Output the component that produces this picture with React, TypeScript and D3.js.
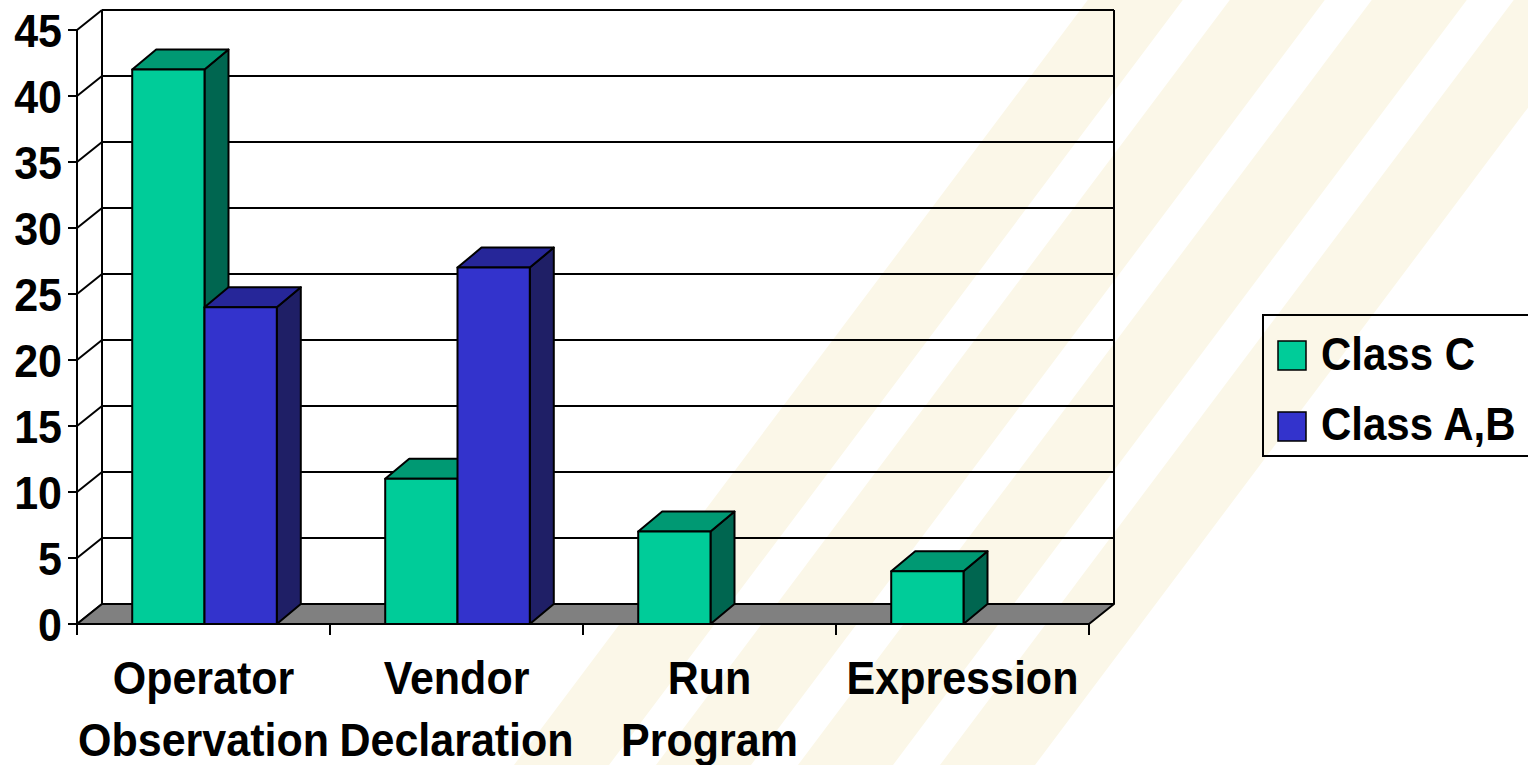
import React from "react";
import * as d3 from "d3";

// ---- data ----
const categories = ["Operator Observation", "Vendor Declaration", "Run Program", "Expression"];
const categoryLines = [["Operator", "Observation"], ["Vendor", "Declaration"], ["Run", "Program"], ["Expression"]];
const seriesNames = ["Class C", "Class A,B"];
const classC = [42, 11, 7, 4];
const classAB = [24, 27, 0, 0];
const yTicks = [0, 5, 10, 15, 20, 25, 30, 35, 40, 45];

// ---- styles ----
const W = 1528;
const H = 765;
const FONT = "'Liberation Sans', Arial, sans-serif";
const seriesColors = [
  { front: "#00CC99", top: "#009973", side: "#006650" },
  { front: "#3333CC", top: "#262699", side: "#1F1F66" },
];
const STRIPE = "#FBF7E8";
const SY = 1.08; // vertical stretch of text

export default function App() {
  const x0 = 77, x1 = 1089, yBase = 624, yTop = 30;
  const wallDx = 25, wallDy = -20;
  const barDx = 24, barDy = -20;

  const x = d3.scaleBand<string>().domain(categories).range([x0, x1]).paddingInner(0).paddingOuter(0);
  const y = d3.scaleLinear().domain([0, 45]).range([yBase, yTop]);
  const bw = x.bandwidth();
  const barW = bw / 3.5;

  const series = [classC, classAB];

  // background stripes (decorative)
  const stripeStart = 514, stripeW = 95, stripeGap = 47, slope = 0.75;
  const stripes = d3.range(4).map((i) => {
    const xb = stripeStart + i * (stripeW + stripeGap);
    const sh = slope * H;
    return `${xb},${H} ${xb + stripeW},${H} ${xb + stripeW + sh},0 ${xb + sh},0`;
  });

  const bx0 = x0 + wallDx, bx1 = x1 + wallDx;

  const bars: JSX.Element[] = [];
  categories.forEach((c, ci) => {
    series.forEach((vals, si) => {
      const v = vals[ci];
      if (!v) return;
      const left = (x(c) as number) + barW * 0.75 + si * barW + 1;
      const right = left + barW;
      const top = y(v);
      const bot = y(0);
      const col = seriesColors[si];
      bars.push(
        <g key={`${ci}-${si}`} stroke="#000" strokeWidth={2} strokeLinejoin="round">
          <polygon
            points={`${right},${bot} ${right + barDx},${bot + barDy} ${right + barDx},${top + barDy} ${right},${top}`}
            fill={col.side}
          />
          <polygon
            points={`${left},${top} ${right},${top} ${right + barDx},${top + barDy} ${left + barDx},${top + barDy}`}
            fill={col.top}
          />
          <rect x={left} y={top} width={barW} height={bot - top} fill={col.front} />
        </g>
      );
    });
  });

  const fontSize = 43;

  const T = (props: { x: number; y: number; anchor?: string; size?: number; children: React.ReactNode }) => (
    <text
      transform={`translate(${props.x},${props.y}) scale(1,${SY})`}
      textAnchor={props.anchor || "start"}
      fontFamily={FONT}
      fontWeight="bold"
      fontSize={props.size || fontSize}
      fill="#000"
    >
      {props.children}
    </text>
  );

  return (
    <div style={{ position: "absolute", left: 0, top: 0 }}>
      <svg width={W} height={H} style={{ display: "block" }}>
        <rect x={0} y={0} width={W} height={H} fill="#fff" />
        {stripes.map((p, i) => (
          <polygon key={i} points={p} fill={STRIPE} />
        ))}

        {/* back wall gridlines */}
        {yTicks.map((t) => (
          <line key={`g${t}`} x1={bx0} x2={bx1} y1={y(t) + wallDy} y2={y(t) + wallDy} stroke="#000" strokeWidth={2} />
        ))}
        {/* side wall diagonals */}
        {yTicks.map((t) => (
          <line key={`d${t}`} x1={x0} y1={y(t)} x2={bx0} y2={y(t) + wallDy} stroke="#000" strokeWidth={2} />
        ))}
        {/* wall edges */}
        <line x1={bx0} x2={bx0} y1={y(45) + wallDy} y2={y(0) + wallDy} stroke="#000" strokeWidth={2} />
        <line x1={bx1} x2={bx1} y1={y(45) + wallDy} y2={y(0) + wallDy} stroke="#000" strokeWidth={2} />
        {/* floor */}
        <polygon
          points={`${x0},${y(0)} ${x1},${y(0)} ${bx1},${y(0) + wallDy} ${bx0},${y(0) + wallDy}`}
          fill="#808080"
          stroke="#000"
          strokeWidth={2}
          strokeLinejoin="round"
        />
        {/* front axis */}
        <line x1={x0} x2={x0} y1={y(45)} y2={y(0)} stroke="#000" strokeWidth={2} />
        {yTicks.map((t) => (
          <line key={`t${t}`} x1={x0 - 9} x2={x0} y1={y(t)} y2={y(t)} stroke="#000" strokeWidth={2} />
        ))}
        {/* category ticks */}
        {[...categories.map((c) => x(c) as number), x1].map((xx, i) => (
          <line key={`ct${i}`} x1={xx} x2={xx} y1={yBase} y2={yBase + 11} stroke="#000" strokeWidth={2} />
        ))}

        {bars}

        {/* y labels */}
        {yTicks.map((t) => (
          <T key={`yl${t}`} x={62} y={y(t) + 16.5} anchor="end">
            {t}
          </T>
        ))}

        {/* category labels */}
        {categories.map((c, ci) =>
          categoryLines[ci].map((ln, li) => (
            <T key={`cl${ci}-${li}`} x={(x(c) as number) + bw / 2} y={694 + li * 62} anchor="middle">
              {ln}
            </T>
          ))
        )}

        {/* legend */}
        <rect x={1263} y={315} width={300} height={141} fill="none" stroke="#000" strokeWidth={2} />
        {seriesNames.map((n, i) => (
          <g key={`lg${i}`}>
            <rect
              x={1278}
              y={341 + i * 71}
              width={28}
              height={29}
              fill={seriesColors[i].front}
              stroke="#000"
              strokeWidth={1.5}
            />
            <T x={1321} y={370 + i * 70} size={42}>
              {n}
            </T>
          </g>
        ))}
      </svg>
    </div>
  );
}
